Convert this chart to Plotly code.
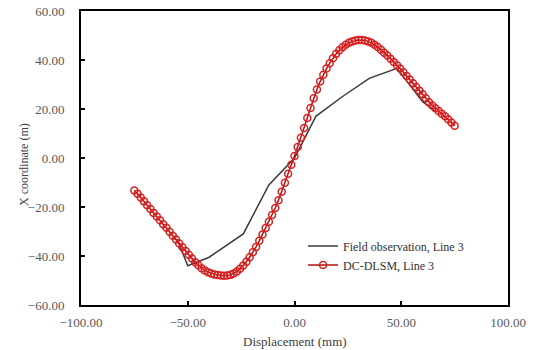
import plotly.graph_objects as go

# Field observation, Line 3
field_disp = [-55, -50, -40, -24, -12, 0, 10, 22, 35, 48, 60, 66]
field_x = [-33, -44, -40.5, -31, -11, 0, 17, 24.8, 32.5, 36.6, 23, 19]

# DC-DLSM, Line 3
dlsm_disp = [-75, -73.5, -72, -70.5, -69, -67.5, -66, -64.5, -63, -61.5,
             -60, -58.5, -57, -55.5, -54, -52.5, -51, -49.5, -48, -46.5,
             -45, -43.5, -42, -40.5, -39, -37.5, -36, -34.5, -33, -31.5,
             -30, -28.5, -27, -25.5, -24, -22.5, -21, -19.5, -18, -16.5,
             -15, -13.5, -12, -10.5, -9, -7.5, -6, -4.5, -3, -1.5,
             0, 1.5, 3, 4.5, 6, 7.5, 9, 10.5, 12, 13.5,
             15, 16.5, 18, 19.5, 21, 22.5, 24, 25.5, 27, 28.5,
             30, 31.5, 33, 34.5, 36, 37.5, 39, 40.5, 42, 43.5,
             45, 46.5, 48, 49.5, 51, 52.5, 54, 55.5, 57, 58.5,
             60, 61.5, 63, 64.5, 66, 67.5, 69, 70.5, 72, 73.5, 75]
dlsm_x = [-13.3, -14.6, -16.1, -17.7, -19.3, -20.8, -22.4, -23.9, -25.4, -27.0,
          -28.5, -30.1, -31.7, -33.3, -34.9, -36.4, -38.0, -39.5, -41.0, -42.5,
          -43.8, -45.0, -45.9, -46.6, -47.1, -47.5, -47.8, -48.0, -48.1, -48.0,
          -47.7, -47.1, -46.3, -45.2, -43.9, -42.3, -40.5, -38.5, -36.3, -33.8,
          -31.2, -28.6, -26.0, -23.3, -20.4, -17.2, -13.8, -10.1, -6.4, -2.8,
          0.8, 4.5, 8.3, 12.2, 16.3, 20.4, 24.4, 28.0, 31.2, 34.0,
          36.5, 38.7, 40.7, 42.5, 44.0, 45.2, 46.2, 47.0, 47.6, 48.0,
          48.2, 48.2, 48.0, 47.6, 47.0, 46.2, 45.3, 44.2, 43.0, 41.8,
          40.5, 39.2, 37.9, 36.5, 35.0, 33.5, 32.0, 30.5, 29.0, 27.5,
          26.0, 24.4, 22.8, 21.4, 20.3, 19.2, 18.1, 17.0, 15.8, 14.5, 13.2]

x_ticks = [-100, -50, 0, 50, 100]
y_ticks = [-60, -40, -20, 0, 20, 40, 60]

font_family = "Liberation Serif, Times New Roman, serif"

fig = go.Figure()
fig.add_trace(go.Scatter(
    x=field_disp, y=field_x, mode="lines",
    name="Field observation, Line 3",
    line=dict(color="#3a3a3a", width=1.5),
))
fig.add_trace(go.Scatter(
    x=dlsm_disp, y=dlsm_x, mode="lines+markers",
    name="DC-DLSM, Line 3",
    line=dict(color="#b01010", width=1.5),
    marker=dict(symbol="circle-open", size=7, color="#d82020",
                line=dict(width=1.5, color="#d82020")),
))

axis_common = dict(
    showgrid=False, zeroline=False, showline=True, linecolor="black",
    linewidth=2, mirror=True, ticks="inside", ticklen=4, tickwidth=1.5,
    tickcolor="black", tickformat=".2f", automargin=False,
    tickfont=dict(family=font_family, size=13, color="#595959"),
)

fig.update_xaxes(range=[-100, 100], tickvals=x_ticks, ticklabelstandoff=4,
                 **axis_common)
fig.update_yaxes(range=[-60, 60], tickvals=y_ticks, ticklabelstandoff=12,
                 **axis_common)

fig.add_annotation(text="Displacement (mm)", xref="paper", yref="paper",
                   x=0.5, y=-0.125, xanchor="center", yanchor="middle",
                   showarrow=False,
                   font=dict(family=font_family, size=13, color="#404040"))
fig.add_annotation(text="X coordinate (m)", xref="paper", yref="paper",
                   x=-0.1335, y=0.48, xanchor="center", yanchor="middle",
                   textangle=-90, showarrow=False,
                   font=dict(family=font_family, size=12, color="#404040"))

fig.update_layout(
    width=541, height=350,
    margin=dict(l=81, r=33, t=11, b=45),
    paper_bgcolor="white", plot_bgcolor="white",
    showlegend=True,
    legend=dict(x=0.52, y=0.25, xanchor="left", yanchor="top",
                bgcolor="rgba(0,0,0,0)", borderwidth=0,
                font=dict(family=font_family, size=12, color="#303030"),
                tracegroupgap=0, itemwidth=30),
)

fig.write_html("out.html")
